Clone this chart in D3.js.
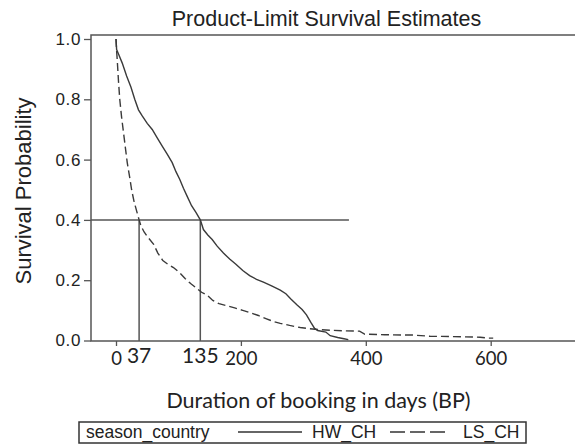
<!DOCTYPE html>
<html>
<head>
<meta charset="utf-8">
<script src="https://cdn.jsdelivr.net/npm/d3@7"></script>
<style>
  html, body { margin: 0; padding: 0; background: #fff; }
  svg { display: block; }
</style>
</head>
<body>
<svg id="chart" width="575" height="445"></svg>
<script>
// Kaplan-Meier product-limit estimates, points along each curve (day, survival)
const hwDays = [0, 1, 5, 10, 17, 24, 30, 36, 42, 50, 58, 66, 74, 82, 90, 96, 102, 108, 114, 121, 128, 135, 140, 147, 154, 162, 172, 182, 192, 203, 214, 225, 237, 250, 263, 272, 280, 290, 298, 305, 312, 318, 323, 336, 343, 355, 365, 372];
const hwSurv = [1.0, 0.965, 0.945, 0.92, 0.877, 0.84, 0.80, 0.765, 0.745, 0.72, 0.70, 0.672, 0.645, 0.618, 0.59, 0.56, 0.535, 0.505, 0.478, 0.447, 0.425, 0.40, 0.368, 0.350, 0.335, 0.313, 0.290, 0.270, 0.253, 0.232, 0.215, 0.203, 0.193, 0.180, 0.167, 0.155, 0.138, 0.118, 0.103, 0.085, 0.060, 0.040, 0.033, 0.028, 0.016, 0.010, 0.006, 0.003];

const lsDays = [0, 1, 2, 4, 6, 9, 12, 15, 18, 22, 25, 29, 33, 37, 40, 45, 52, 60, 67, 75, 83, 92, 102, 111, 120, 130, 137, 146, 155, 165, 178, 190, 203, 215, 228, 241, 252, 263, 278, 295, 310, 325, 343, 365, 390, 398, 430, 475, 503, 540, 583, 595, 604];
const lsSurv = [1.0, 0.96, 0.93, 0.86, 0.80, 0.74, 0.69, 0.64, 0.59, 0.54, 0.50, 0.46, 0.43, 0.40, 0.38, 0.36, 0.34, 0.32, 0.29, 0.265, 0.253, 0.242, 0.225, 0.205, 0.188, 0.172, 0.160, 0.150, 0.133, 0.122, 0.115, 0.108, 0.100, 0.092, 0.083, 0.072, 0.063, 0.057, 0.050, 0.043, 0.039, 0.036, 0.034, 0.032, 0.031, 0.021, 0.019, 0.018, 0.014, 0.013, 0.011, 0.008, 0.008];

const seriesNames = ["HW_CH", "LS_CH"];
const xTicks = [0, 200, 400, 600];
const yTicks = [0, 0.2, 0.4, 0.6, 0.8, 1.0];
// median survival times marked at S = 0.4
const refLevel = 0.4;
const refDays = [37, 135];
const refLineEnd = 373;

const svg = d3.select("#chart");
const axisColor = "#555";
const curveColor = "#3a3a3a";

const frame = { left: 91, top: 35, right: 582, bottom: 341 };

const x = d3.scaleLinear().domain([0, 600]).range([116, 490.7]);
const y = d3.scaleLinear().domain([0, 1]).range([340.5, 39]);

// plot frame
svg.append("rect")
  .attr("x", frame.left).attr("y", frame.top)
  .attr("width", frame.right - frame.left).attr("height", frame.bottom - frame.top)
  .attr("fill", "none").attr("stroke", axisColor).attr("stroke-width", 1.5);

// y axis
const yAxis = svg.append("g")
  .attr("transform", `translate(${frame.left},0)`)
  .call(d3.axisLeft(y).tickValues(yTicks).tickFormat(d3.format(".1f")).tickSize(7).tickPadding(3));
yAxis.select(".domain").remove();
yAxis.selectAll("line").attr("stroke", axisColor).attr("stroke-width", 1.3);
yAxis.selectAll("text")
  .attr("font-family", "Liberation Sans, Arial, sans-serif")
  .attr("font-size", 17).attr("letter-spacing", 0.6).attr("fill", "#222");

// x axis
const xAxis = svg.append("g")
  .attr("transform", `translate(0,${frame.bottom})`)
  .call(d3.axisBottom(x).tickValues(xTicks).tickFormat(d3.format("d")).tickSize(5).tickPadding(6));
xAxis.select(".domain").remove();
xAxis.selectAll("line").attr("stroke", axisColor).attr("stroke-width", 1.3);
xAxis.selectAll("text")
  .attr("font-family", "Lato, sans-serif")
  .attr("font-size", 18.5).attr("fill", "#222");

// reference lines at the 0.4 survival level
const refG = svg.append("g").attr("stroke", axisColor).attr("stroke-width", 1.5);
refG.append("line")
  .attr("x1", frame.left).attr("x2", x(refLineEnd))
  .attr("y1", y(refLevel)).attr("y2", y(refLevel));
refG.selectAll("line.v").data(refDays).join("line")
  .attr("class", "v")
  .attr("x1", d => x(d)).attr("x2", d => x(d))
  .attr("y1", y(refLevel)).attr("y2", frame.bottom);

svg.append("g").selectAll("text").data(refDays).join("text")
  .attr("x", d => x(d)).attr("y", 362.5)
  .attr("text-anchor", "middle")
  .attr("font-family", "Lato, sans-serif").attr("font-size", 21).attr("fill", "#222")
  .text(d => d);

// survival curves
const line = d3.line().x(d => x(d[0])).y(d => y(d[1])).curve(d3.curveLinear);
const hw = hwDays.map((d, i) => [d, hwSurv[i]]);
const ls = lsDays.map((d, i) => [d, lsSurv[i]]);

svg.append("path").datum(hw)
  .attr("d", line).attr("fill", "none")
  .attr("stroke", curveColor).attr("stroke-width", 1.4);
svg.append("path").datum(ls)
  .attr("d", line).attr("fill", "none")
  .attr("stroke", curveColor).attr("stroke-width", 1.4)
  .attr("stroke-dasharray", "8,4");

// titles
svg.append("text")
  .attr("x", 326.5).attr("y", 25.5).attr("text-anchor", "middle")
  .attr("font-family", "Liberation Sans, Arial, sans-serif").attr("font-size", 21.5).attr("fill", "#222")
  .text("Product-Limit Survival Estimates");

svg.append("text")
  .attr("transform", "translate(31,191) rotate(-90)")
  .attr("text-anchor", "middle")
  .attr("font-family", "Liberation Sans, Arial, sans-serif").attr("font-size", 22).attr("fill", "#222")
  .text("Survival Probability");

svg.append("text")
  .attr("x", 318.5).attr("y", 408).attr("text-anchor", "middle")
  .attr("font-family", "Lato, sans-serif").attr("font-size", 21.5).attr("fill", "#222")
  .text("Duration of booking in days (BP)");

// legend
const lg = svg.append("g");
lg.append("rect")
  .attr("x", 79).attr("y", 422).attr("width", 447).attr("height", 21)
  .attr("fill", "none").attr("stroke", "#333").attr("stroke-width", 1.5);
const legendFont = "Liberation Sans, Arial, sans-serif";
lg.append("text").attr("x", 86).attr("y", 437.5)
  .attr("font-family", legendFont).attr("font-size", 17.5).attr("fill", "#222")
  .text("season_country");
const legendItems = [
  { name: seriesNames[0], x1: 238, x2: 302, tx: 312, dash: null },
  { name: seriesNames[1], x1: 390, x2: 445, tx: 463, dash: "15,5" }
];
legendItems.forEach(it => {
  lg.append("line")
    .attr("x1", it.x1).attr("x2", it.x2).attr("y1", 432).attr("y2", 432)
    .attr("stroke", "#333").attr("stroke-width", 1.4)
    .attr("stroke-dasharray", it.dash);
  lg.append("text").attr("x", it.tx).attr("y", 437.5)
    .attr("font-family", legendFont).attr("font-size", 17.5).attr("fill", "#222")
    .text(it.name);
});
</script>
</body>
</html>
